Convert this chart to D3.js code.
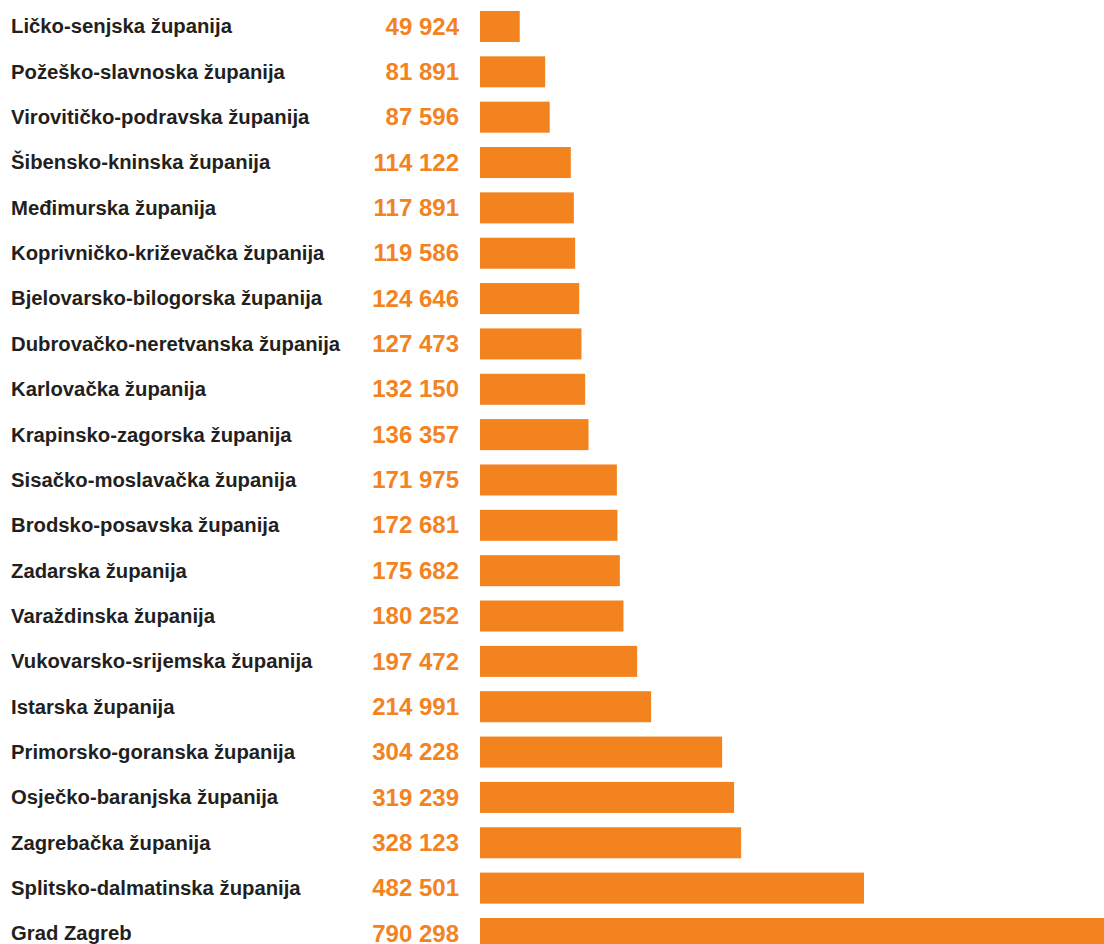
<!DOCTYPE html>
<html lang="hr">
<head>
  <meta charset="UTF-8">
  <title>Stanovništvo po županijama</title>
  <script src="https://d3js.org/d3.v7.min.js"></script>
  <style>
    body {
      margin: 0;
      background: #fff;
    }
    svg {
      display: block;
    }
    .name {
      font-family: "Liberation Sans", Arial, sans-serif;
      font-weight: bold;
      font-size: 20.3px;
      fill: #231f20;
    }
    .value {
      font-family: "Liberation Sans", Arial, sans-serif;
      font-weight: bold;
      font-size: 24px;
      fill: #f3831f;
    }
  </style>
</head>
<body>
  <svg width="1104" height="944"></svg>

  <script>
    const counties = [
      "Ličko-senjska županija",
      "Požeško-slavnoska županija",
      "Virovitičko-podravska županija",
      "Šibensko-kninska županija",
      "Međimurska županija",
      "Koprivničko-križevačka županija",
      "Bjelovarsko-bilogorska županija",
      "Dubrovačko-neretvanska županija",
      "Karlovačka županija",
      "Krapinsko-zagorska županija",
      "Sisačko-moslavačka županija",
      "Brodsko-posavska županija",
      "Zadarska županija",
      "Varaždinska županija",
      "Vukovarsko-srijemska županija",
      "Istarska županija",
      "Primorsko-goranska županija",
      "Osječko-baranjska županija",
      "Zagrebačka županija",
      "Splitsko-dalmatinska županija",
      "Grad Zagreb"
    ];
    const population = [
      49924, 81891, 87596, 114122, 117891, 119586, 124646, 127473, 132150,
      136357, 171975, 172681, 175682, 180252, 197472, 214991, 304228,
      319239, 328123, 482501, 790298
    ];

    const data = counties.map((name, i) => ({ name, value: population[i] }));

    const svg = d3.select("svg");
    const barLeft = 480, valueRight = 459, nameLeft = 11;
    const step = 45.35, chartTop = 3.8;

    const y = d3.scaleBand()
      .domain(counties)
      .range([chartTop, chartTop + step * counties.length])
      .paddingInner(0.316)
      .paddingOuter(0.158);

    const x = d3.scaleLinear()
      .domain([0, 790298])
      .range([barLeft, barLeft + 629]);

    // thousands separated by a space, like the original
    const fmt = v => d3.format(",")(v).replace(/,/g, " ");

    svg.selectAll(".bar")
      .data(data)
      .enter()
      .append("rect")
      .attr("class", "bar")
      .attr("x", x(0))
      .attr("y", d => y(d.name))
      .attr("width", d => x(d.value) - x(0))
      .attr("height", y.bandwidth())
      .attr("fill", "#f3831f");

    svg.selectAll(".name")
      .data(data)
      .enter()
      .append("text")
      .attr("class", "name")
      .attr("x", nameLeft)
      .attr("y", d => y(d.name) + y.bandwidth() / 2)
      .attr("dy", "0.34em")
      .text(d => d.name);

    svg.selectAll(".value")
      .data(data)
      .enter()
      .append("text")
      .attr("class", "value")
      .attr("x", valueRight)
      .attr("y", d => y(d.name) + y.bandwidth() / 2)
      .attr("dy", "0.34em")
      .attr("text-anchor", "end")
      .text(d => fmt(d.value));
  </script>
</body>
</html>
